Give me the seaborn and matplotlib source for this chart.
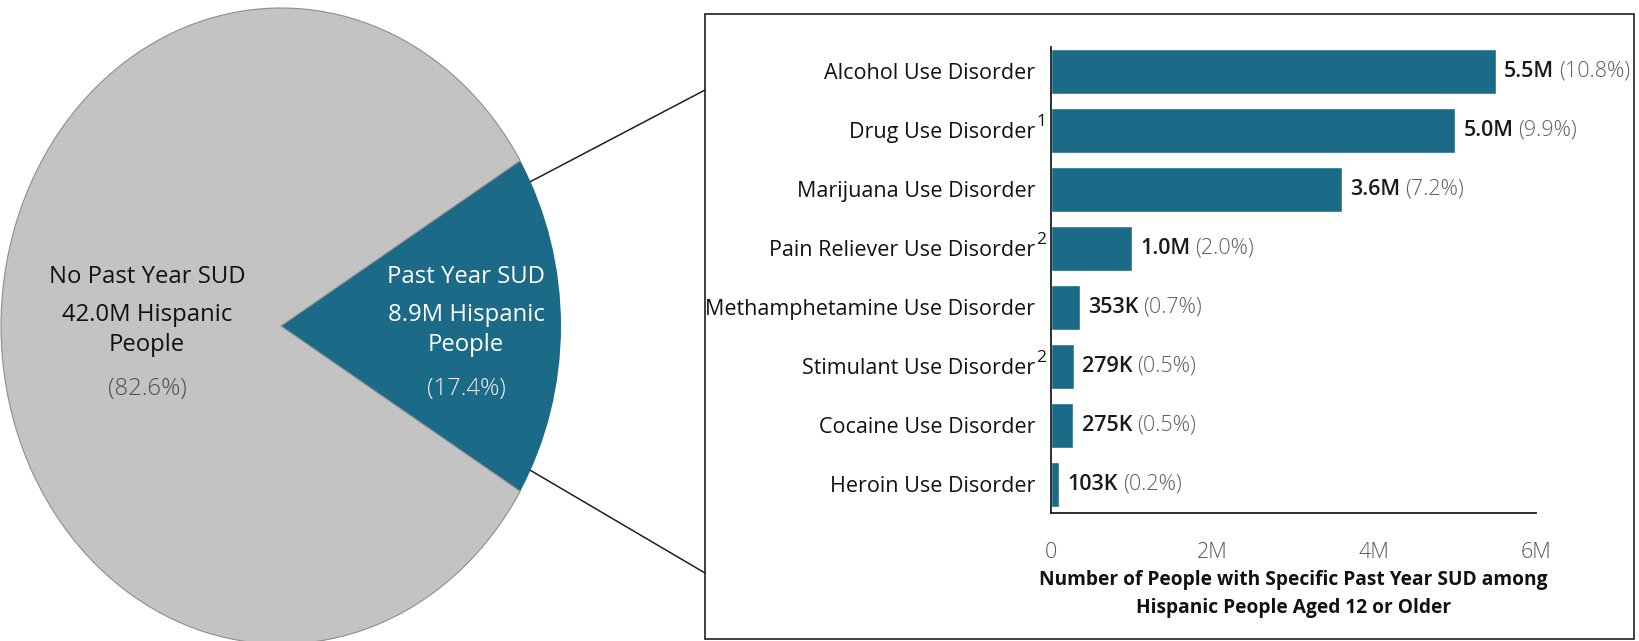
import numpy as np
import pandas as pd
import matplotlib
matplotlib.use("Agg")
import matplotlib.pyplot as plt
import seaborn as sns
from matplotlib.patches import Rectangle, ConnectionPatch

# ---------------- data ----------------
pie_labels = ["Past Year SUD", "No Past Year SUD"]
pie_counts = ["8.9M", "42.0M"]
pie_values = [17.4, 82.6]

categories = ["Alcohol Use Disorder", "Drug Use Disorder", "Marijuana Use Disorder",
              "Pain Reliever Use Disorder", "Methamphetamine Use Disorder",
              "Stimulant Use Disorder", "Cocaine Use Disorder", "Heroin Use Disorder"]
superscripts = ["", "1", "", "2", "", "2", "", ""]
values = [5.5e6, 5.0e6, 3.6e6, 1.0e6, 353e3, 279e3, 275e3, 103e3]
value_labels = ["5.5M", "5.0M", "3.6M", "1.0M", "353K", "279K", "275K", "103K"]
pct_labels = ["(10.8%)", "(9.9%)", "(7.2%)", "(2.0%)", "(0.7%)", "(0.5%)", "(0.5%)", "(0.2%)"]
xticks = [0, 2e6, 4e6, 6e6]
xtick_labels = ["0", "2M", "4M", "6M"]
xlabel = "Number of People with Specific Past Year SUD among\nHispanic People Aged 12 or Older"

BLUE = "#1B6A88"
GRAY = "#C3C3C3"
DARK = "#1F1F1F"

sns.set_theme(style="white")
plt.rcParams["font.family"] = ["Open Sans", "DejaVu Sans"]

W, H = 1640, 641
fig = plt.figure(figsize=(W / 100, H / 100), dpi=100)

def fx(px):
    return px / W

def fy(py):
    return 1 - py / H

# ---------------- pie ----------------
pax = fig.add_axes([fx(1), fy(641 + 3), fx(560), 636 / H])
start = -pie_values[0] * 3.6 / 2
wedges, _ = pax.pie(pie_values, colors=[BLUE, GRAY], startangle=start,
                    counterclock=True, radius=1.0,
                    wedgeprops=dict(linewidth=0))
wedges[1].set_edgecolor("#8E8E8E")
wedges[1].set_linewidth(0.8)
pax.set_aspect("auto")
pax.set_xlim(-1, 1)
pax.set_ylim(-1, 1)
pax.axis("off")

def py2d(py):
    return (326 - py) / 318

def px2d(px):
    return (px - 281) / 280

PF = 17.2
# grey wedge text
gx = px2d(147)
pax.text(gx, py2d(277), pie_labels[1], ha="center", va="center", fontsize=PF, color="#111111")
pax.text(gx, py2d(315), f"{pie_counts[1]} Hispanic", ha="center", va="center", fontsize=PF, color="#111111")
pax.text(gx, py2d(345), "People", ha="center", va="center", fontsize=PF, color="#111111")
pax.text(gx, py2d(389), f"({pie_values[1]}%)", ha="center", va="center", fontsize=PF,
         color="#505050", fontweight="light")
# blue wedge text
bx = px2d(466)
pax.text(bx, py2d(277), pie_labels[0], ha="center", va="center", fontsize=PF, color="white")
pax.text(bx, py2d(315), f"{pie_counts[0]} Hispanic", ha="center", va="center", fontsize=PF, color="white")
pax.text(bx, py2d(345), "People", ha="center", va="center", fontsize=PF, color="white")
pax.text(bx, py2d(389), f"({pie_values[0]}%)", ha="center", va="center", fontsize=PF,
         color="#F0F0F0", fontweight="light")

# ---------------- box + connectors ----------------
box = Rectangle((fx(705), fy(639)), fx(1634 - 705), (639 - 14) / H,
                transform=fig.transFigure, fill=False, edgecolor=DARK, linewidth=1.2)
fig.patches.append(box)

a = np.deg2rad(27)
for sgn, ypx in [(1, 90), (-1, 573)]:
    con = ConnectionPatch(xyA=(np.cos(a), sgn * np.sin(a)), coordsA=pax.transData,
                          xyB=(fx(705), fy(ypx)), coordsB=fig.transFigure,
                          color=DARK, linewidth=1.1)
    fig.add_artist(con)

# ---------------- bars ----------------
ax = fig.add_axes([fx(1051), fy(513), fx(1536 - 1051), (513 - 47) / H])
df = pd.DataFrame({"cat": categories, "val": values})
sns.barplot(data=df, y="cat", x="val", orient="h", color=BLUE, width=0.76,
            saturation=1, ax=ax)
ax.set_xlim(0, 6e6)
ax.set_ylim(7.49, -0.41)
ax.set_xticks(xticks)
ax.set_xticklabels(xtick_labels, fontsize=15.5, color="#5A5A5A", fontweight="light")
ax.set_yticks(range(len(categories)))
ax.set_yticklabels(categories, fontsize=15.5, color="#111111")
ax.tick_params(axis="y", length=0, pad=11.2)
ax.tick_params(axis="x", length=0, pad=21)
ax.set_ylabel("")
ax.set_xlabel(xlabel, fontsize=13.8, fontweight="bold", color="#111111", labelpad=5,
              linespacing=1.5)
for s in ["top", "right"]:
    ax.spines[s].set_visible(False)
for s in ["left", "bottom"]:
    ax.spines[s].set_color(DARK)
    ax.spines[s].set_linewidth(1.3)

# superscripts on tick labels
ytr = ax.get_yaxis_transform()
for i, sup in enumerate(superscripts):
    if sup:
        ax.annotate(sup, xy=(0, i), xycoords=ytr, xytext=(-10.8, 6),
                    textcoords="offset points", ha="left", va="center",
                    fontsize=12.5, color="#111111")

# value labels
for i, (v, vl, pl) in enumerate(zip(values, value_labels, pct_labels)):
    t1 = ax.annotate(vl, xy=(v, i), xytext=(6, 0), textcoords="offset points",
                     ha="left", va="center", fontsize=15.5, fontweight="semibold",
                     color="#1A1A1A")
    ax.annotate(pl, xy=(1, 0), xycoords=t1, xytext=(3.5, 0), textcoords="offset points",
                ha="left", va="bottom", fontsize=15.5, fontweight="light", color="#606060")

fig.savefig("out.png", dpi=100)
